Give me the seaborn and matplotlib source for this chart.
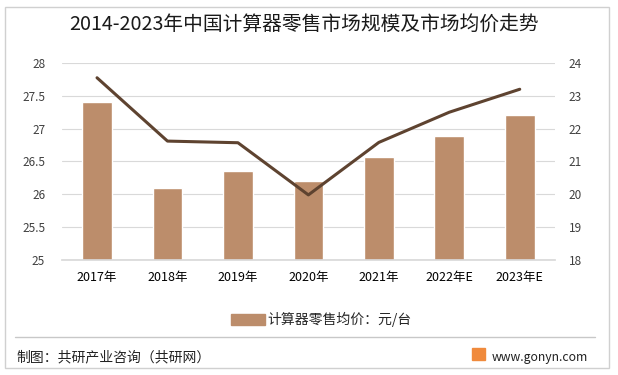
import numpy as np
import pandas as pd
import matplotlib.pyplot as plt
import seaborn as sns
from matplotlib.patches import Rectangle
from matplotlib.lines import Line2D

years = ["2017年", "2018年", "2019年", "2020年", "2021年", "2022年E", "2023年E"]
avg_price = [27.41, 26.09, 26.36, 26.20, 26.57, 26.89, 27.20]
market_scale = [23.55, 21.62, 21.57, 19.98, 21.58, 22.50, 23.20]

BAR_COLOR = "#BC8D6B"
LINE_COLOR = "#5E4330"

df = pd.DataFrame({"year": years, "price": avg_price, "scale": market_scale})

sns.set_theme(style="white")
plt.rcParams["font.family"] = ["Noto Sans CJK SC", "DejaVu Sans"]

fig = plt.figure(figsize=(6.18, 3.75), dpi=100)
ax = fig.add_axes([0.1, 0.307, 0.798, 0.525])

sns.barplot(data=df, x="year", y="price", color=BAR_COLOR, width=0.42,
            saturation=1, ax=ax)
ax.set_ylim(25, 28)
ax.set_yticks([25, 25.5, 26, 26.5, 27, 27.5, 28])
ax.set_yticklabels(["25", "25.5", "26", "26.5", "27", "27.5", "28"])
ax.grid(axis="y", color="#D9D9D9", linewidth=0.8)
ax.set_axisbelow(True)
for s in ["top", "left", "right"]:
    ax.spines[s].set_visible(False)
ax.spines["bottom"].set_color("#D9D9D9")
ax.set_xlabel("")
ax.set_ylabel("")
ax.tick_params(axis="y", labelsize=8.5, colors="#404040", length=0, pad=12)
ax.tick_params(axis="x", labelsize=9, colors="#000000", length=0, pad=8)
ax.set_xlim(-0.5, 6.5)

ax2 = ax.twinx()
sns.lineplot(data=df, x="year", y="scale", color=LINE_COLOR, linewidth=2.2,
             ax=ax2, sort=False)
ax2.set_ylim(18, 24)
ax2.set_yticks([18, 19, 20, 21, 22, 23, 24])
ax2.set_ylabel("")
for s in ["top", "left", "right", "bottom"]:
    ax2.spines[s].set_visible(False)
ax2.tick_params(axis="y", labelsize=8.5, colors="#404040", length=0, pad=10)

handles = [Rectangle((0, 0), 1, 1, color=BAR_COLOR)]
fig.legend(handles, ["计算器零售均价：元/台"], loc="center", bbox_to_anchor=(0.52, 0.147),
           frameon=False, fontsize=10, handlelength=2.4, handleheight=0.9,
           handletextpad=0.2)

fig.text(0.492, 0.933, "2014-2023年中国计算器零售市场规模及市场均价走势",
         ha="center", va="center", fontsize=14.2, color="#1a1a1a")

# frame and footer
fig.patches.append(Rectangle((0.008, 0.019), 0.977, 0.962, transform=fig.transFigure,
                             fill=False, edgecolor="#D0D0D0", linewidth=1))
fig.lines.append(Line2D([0.024, 0.963], [0.101, 0.101], transform=fig.transFigure,
                        color="#C8C8C8", linewidth=1))
fig.text(0.027, 0.048, "制图：共研产业咨询（共研网）", ha="left", va="center",
         fontsize=10, color="#222222")
fig.patches.append(Rectangle((0.764, 0.04), 0.021, 0.032, transform=fig.transFigure,
                             color="#F08A3C"))
fig.text(0.796, 0.048, "www.gonyn.com", ha="left", va="center",
         fontsize=8.8, color="#222222")

fig.savefig("out.png", dpi=100)
